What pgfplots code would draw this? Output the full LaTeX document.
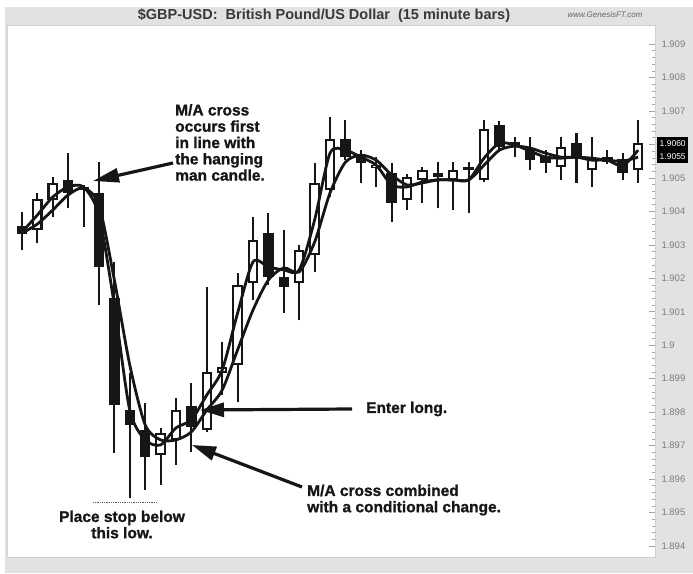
\documentclass[border=0pt]{standalone}
\usepackage{pgfplots}
\pgfplotsset{compat=1.18}
\usepackage{pgfplotstable}
\usepackage{fontspec}
\setmainfont{Liberation Sans}
\newfontfamily\heavyfont[BoldFeatures={FakeBold=1.2}]{Liberation Sans}
\usetikzlibrary{arrows.meta}

\definecolor{framegray}{RGB}{226,226,226}
\definecolor{labelgray}{RGB}{125,125,125}
\definecolor{ink}{RGB}{22,22,22}

% down (filled) candles: index open high low close
\pgfplotstableread{
i o h l c
1 1.90356 1.90398 1.90285 1.90332
4 1.90494 1.90574 1.90410 1.90455
6 1.90455 1.90547 1.90120 1.90234
7 1.90141 1.90249 1.89678 1.89821
8 1.89806 1.89917 1.89543 1.89762
9 1.89747 1.89827 1.89567 1.89666
12 1.89818 1.89887 1.89681 1.89756
17 1.90335 1.90395 1.90180 1.90204
18 1.90204 1.90344 1.90096 1.90174
22 1.90616 1.90673 1.90553 1.90562
23 1.90565 1.90583 1.90485 1.90544
25 1.90515 1.90544 1.90368 1.90425
28 1.90515 1.90547 1.90410 1.90503
30 1.90532 1.90547 1.90395 1.90524
32 1.90658 1.90670 1.90583 1.90592
33 1.90607 1.90622 1.90562 1.90592
34 1.90589 1.90622 1.90524 1.90553
35 1.90565 1.90583 1.90515 1.90544
37 1.90604 1.90634 1.90485 1.90562
40 1.90556 1.90574 1.90494 1.90515
}\downc

% up (hollow) candles
\pgfplotstableread{
i o h l c
2 1.90344 1.90455 1.90305 1.90437
3 1.90434 1.90503 1.90383 1.90485
5 1.90464 1.90479 1.90353 1.90473
10 1.89672 1.89753 1.89582 1.89738
11 1.89717 1.89842 1.89642 1.89806
13 1.89747 1.90174 1.89741 1.89920
14 1.89917 1.90010 1.89851 1.89935
15 1.89941 1.90216 1.89830 1.90180
16 1.90186 1.90383 1.90135 1.90314
19 1.90186 1.90299 1.90075 1.90285
20 1.90270 1.90544 1.90219 1.90485
21 1.90464 1.90682 1.90443 1.90616
24 1.90530 1.90562 1.90473 1.90538
26 1.90434 1.90512 1.90404 1.90503
27 1.90494 1.90532 1.90425 1.90524
29 1.90494 1.90547 1.90404 1.90524
31 1.90494 1.90673 1.90488 1.90646
36 1.90532 1.90622 1.90494 1.90592
38 1.90524 1.90622 1.90473 1.90559
39 1.90547 1.90583 1.90542 1.90562
41 1.90524 1.90673 1.90485 1.90604
}\upc

% moving averages
\pgfplotstableread{
i fast slow
1 1.90338 1.90335
2 1.90389 1.90362
3 1.90443 1.90404
4 1.90473 1.90449
5 1.90473 1.90470
6 1.90389 1.90419
7 1.90120 1.90195
8 1.89806 1.89941
9 1.89717 1.89762
10 1.89702 1.89717
11 1.89753 1.89717
12 1.89777 1.89741
13 1.89851 1.89806
14 1.89926 1.89866
15 1.90096 1.89986
16 1.90249 1.90105
17 1.90234 1.90195
18 1.90225 1.90231
19 1.90225 1.90219
20 1.90374 1.90308
21 1.90574 1.90455
22 1.90583 1.90547
23 1.90562 1.90568
24 1.90538 1.90553
25 1.90479 1.90509
26 1.90473 1.90479
27 1.90488 1.90485
28 1.90494 1.90494
29 1.90494 1.90494
30 1.90494 1.90494
31 1.90559 1.90538
32 1.90604 1.90583
33 1.90598 1.90595
34 1.90580 1.90589
35 1.90562 1.90574
36 1.90559 1.90562
37 1.90562 1.90562
38 1.90553 1.90559
39 1.90553 1.90553
40 1.90536 1.90550
41 1.90583 1.90562
}\mavg

\begin{document}
\begin{tikzpicture}
% page and grey frame
\fill[white] (-7pt,-16pt) rectangle (686pt,557pt);
\fill[framegray] (-2pt,-16pt) rectangle (686pt,550pt);

\begin{axis}[
    at={(0pt,0pt)}, anchor=south west,
    width=648pt, height=532pt, scale only axis,
    xmin=0.03, xmax=42.1,
    ymin=1.89367, ymax=1.90957,
    axis background/.style={fill=white},
    axis line style={draw=black!18, line width=0.6pt},
    xtick=\empty,
    ytick={1.894,1.895,1.896,1.897,1.898,1.899,1.900,1.901,1.902,1.903,1.904,1.905,1.906,1.907,1.908,1.909},
    yticklabels={1.894,1.895,1.896,1.897,1.898,1.899,1.9,1.901,1.902,1.903,1.904,1.905,,1.907,1.908,1.909},
    ytick pos=right, yticklabel pos=right,
    tick align=inside,
    major tick length=6pt, minor tick length=3pt,
    minor y tick num=4,
    tick style={draw=black!35, line width=0.6pt},
    yticklabel style={font=\fontsize{9.5}{9.5}\selectfont, text=labelgray, xshift=3pt},
    clip=false,
]
% wicks
\addplot[draw=none, mark=none, forget plot, error bars/.cd, y dir=plus, y explicit, error mark=none,
    error bar style={draw=ink, line width=2.1pt}]
    table[x=i, y=l, y error plus expr=\thisrow{h}-\thisrow{l}] {\downc};
\addplot[draw=none, mark=none, forget plot, error bars/.cd, y dir=plus, y explicit, error mark=none,
    error bar style={draw=ink, line width=2.1pt}]
    table[x=i, y=l, y error plus expr=\thisrow{h}-\thisrow{l}] {\upc};
% filled bodies
\addplot[draw=none, mark=none, forget plot, error bars/.cd, y dir=plus, y explicit, error mark=none,
    error bar style={draw=ink, line width=10.5pt}]
    table[x=i, y=c, y error plus expr=\thisrow{o}-\thisrow{c}] {\downc};
% hollow bodies
\addplot[draw=none, mark=none, forget plot, error bars/.cd, y dir=plus, y explicit, error mark=none,
    error bar style={draw=ink, line width=10.5pt}]
    table[x=i, y=o, y error plus expr=\thisrow{c}-\thisrow{o}] {\upc};
\addplot[draw=none, mark=none, forget plot, error bars/.cd, y dir=plus, y explicit, error mark=none,
    error bar style={draw=white, line width=6.3pt, shorten <=2pt, shorten >=2pt}]
    table[x=i, y=o, y error plus expr=\thisrow{c}-\thisrow{o}] {\upc};
% moving averages
\addplot[ink, line width=2.8pt, smooth, tension=0.45, mark=none] table[x=i, y=fast] {\mavg};
\addplot[ink, line width=2.8pt, smooth, tension=0.45, mark=none] table[x=i, y=slow] {\mavg};
\end{axis}

% title bar
\node[font=\bfseries\fontsize{14.5}{14.5}\selectfont, text=ink!85] at (317pt,541pt)
    {\$GBP-USD:\ \ British Pound/US Dollar\ \ (15 minute bars)};
\node[font=\itshape\fontsize{8}{8}\selectfont, text=black!60] at (598pt,542pt) {www.GenesisFT.com};

% last price boxes
\node[fill=black, text=white, font=\fontsize{8.5}{8.5}\selectfont, inner sep=0pt,
    minimum height=12.5pt, minimum width=31pt, anchor=north west] (p1) at (650pt,420pt) {1.9060};
\node[fill=black, text=white, font=\fontsize{8.5}{8.5}\selectfont, inner sep=0pt,
    minimum height=12.5pt, minimum width=31pt, anchor=north west] at (p1.south west) {1.9055};

% annotations
\tikzset{note/.style={inner sep=0pt, text=ink, font=\heavyfont\bfseries\fontsize{15.5}{16.3}\selectfont}}
\node[note, anchor=north west, align=left] at (168pt,453pt)
    {M/A cross\\occurs first\\in line with\\the hanging\\man candle.};
\draw[ink, line width=3.2pt, -{Triangle[length=26pt,width=14pt]}] (166pt,394pt) -- (86pt,376pt);

\node[note, anchor=west] at (359pt,148pt) {Enter long.};
\draw[ink, line width=3.2pt, -{Triangle[length=24pt,width=14pt]}] (345pt,148pt) -- (193pt,147pt);

\node[note, anchor=north west, align=left] at (300pt,72.5pt)
    {M/A cross combined\\with a conditional change.};
\draw[ink, line width=3.2pt, -{Triangle[length=24pt,width=14pt]}] (295pt,70pt) -- (185pt,112pt);

\draw[ink!70, line width=1pt, dash pattern=on 1pt off 0.8pt] (86pt,55pt) -- (150pt,55pt);
\node[note, anchor=north, align=center] at (115pt,46.5pt)
    {Place stop below\\this low.};
\end{tikzpicture}
\end{document}
